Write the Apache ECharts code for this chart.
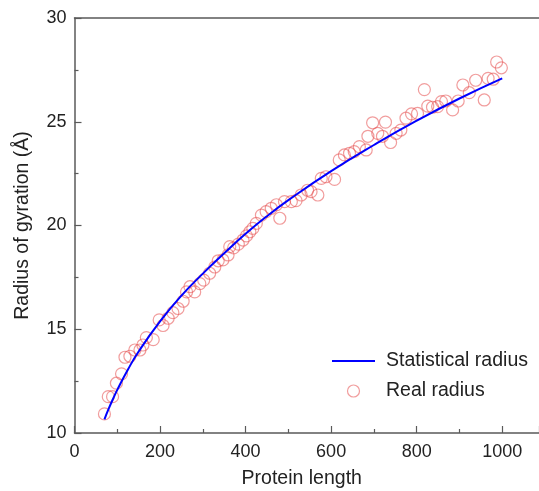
<!DOCTYPE html>
<html>
<head>
<meta charset="utf-8">
<script src="https://cdn.jsdelivr.net/npm/echarts@6/dist/echarts.min.js"></script>
<style>html,body{margin:0;padding:0;background:#fff}#c{width:539px;height:491px}</style>
</head>
<body>
<div id="c"></div>
<script>
// Real radius (scatter) readings
const realLength = [70,79,89,98,110,118,129.5,141,153,160,168,184,198,207,219,230,242,254,262,270,281,293,302,316,328,336,347,359,363,372,383,394,402,410,417,425,437,448,460,472,480,491,507,518,530,545,553,569,577,588,608,619,631,643,654,666,682,686,697,709,720,727,739,752,763,775,788,802,818,826,837,849,858,868,884,897,908,923,938,958,967,979,987,998];
const realRadius = [10.92,11.75,11.75,12.4,12.85,13.65,13.7,14.0,14.0,14.24,14.6,14.5,15.45,15.18,15.53,15.8,16.0,16.35,16.8,17.05,16.8,17.2,17.37,17.7,18.0,18.3,18.34,18.58,18.98,18.92,19.1,19.3,19.5,19.7,19.86,20.1,20.5,20.67,20.83,21.0,20.35,21.15,21.15,21.2,21.47,21.7,21.63,21.47,22.27,22.35,22.22,23.16,23.4,23.48,23.56,23.8,23.64,24.3,24.95,24.44,24.3,24.98,24.0,24.44,24.6,25.17,25.38,25.4,26.55,25.75,25.7,25.73,25.97,26.0,25.57,26.0,26.77,26.4,27.0,26.05,27.09,27.05,27.88,27.6];
// Statistical radius (curve) readings
const statLength = [70,80,90,100,125,150,200,250,300,350,400,450,500,600,700,800,900,1000];
const statRadius = [10.66,11.17,11.64,12.08,13.06,13.93,15.38,16.62,17.68,18.66,19.6,20.45,21.22,22.62,23.88,25.05,26.12,27.09];
const xMin = 0, xMax = 1086, xStep = 200;
const yMin = 10, yMax = 30, yStep = 5;

const chart = echarts.init(document.getElementById('c'));
const axisCol = '#5a5a5a';
const font = 'Liberation Sans, Arial, sans-serif';
const realPairs = [];
for (let i = 0; i < realLength.length; i++) realPairs.push([realLength[i], realRadius[i]]);
const statPairs = [];
for (let i = 0; i < statLength.length; i++) statPairs.push([statLength[i], statRadius[i]]);

chart.setOption({
  animation: false,
  grid: {left: 74.5, top: 18, right: 0, bottom: 58, containLabel: false, outerBoundsMode: 'none'},
  legend: {
    orient: 'vertical', left: 326, top: 346,
    itemWidth: 43, itemHeight: 12, itemGap: 10,
    textStyle: {fontSize: 19.5, color: '#222', fontFamily: font, padding: [0,0,0,6]},
    data: [
      {name: 'Statistical radius', itemStyle: {opacity: 0}, lineStyle: {color: '#0000ff', width: 2}},
      {name: 'Real radius', icon: 'circle', itemStyle: {color: 'rgba(255,255,255,0)', borderColor: 'rgba(230,80,80,0.7)', borderWidth: 1.2}}
    ]
  },
  xAxis: [{
    type: 'value', min: xMin, max: xMax, interval: xStep,
    name: 'Protein length', nameLocation: 'middle', nameGap: 36,
    nameTextStyle: {fontSize: 19.5, color: '#222', fontFamily: font, padding: [0,0,0,-10]},
    axisLine: {lineStyle: {color: axisCol, width: 1.5}},
    axisTick: {inside: true, length: 7, lineStyle: {color: axisCol, width: 1.2}},
    minorTick: {show: true, splitNumber: 2, length: 4, lineStyle: {color: axisCol, width: 1.2}},
    axisLabel: {fontSize: 18, color: '#222', fontFamily: font, margin: 10,
      formatter: function (v) { return v > 1000 ? '' : String(v); }},
    splitLine: {show: false}
  }, {
    type: 'value', position: 'top', min: xMin, max: xMax,
    axisLine: {show: true, onZero: false, lineStyle: {color: axisCol, width: 1.5}},
    axisTick: {show: false}, axisLabel: {show: false}, splitLine: {show: false}
  }],
  yAxis: {
    type: 'value', min: yMin, max: yMax, interval: yStep,
    name: 'Radius of gyration (Å)', nameLocation: 'middle', nameGap: 42,
    nameTextStyle: {fontSize: 19.5, color: '#222', fontFamily: font},
    axisLine: {show: true, lineStyle: {color: axisCol, width: 1.5}},
    axisTick: {inside: true, length: 7, lineStyle: {color: axisCol, width: 1.2}},
    minorTick: {show: true, splitNumber: 2, length: 4, lineStyle: {color: axisCol, width: 1.2}},
    axisLabel: {fontSize: 18, color: '#222', fontFamily: font, margin: 8},
    splitLine: {show: false}
  },
  series: [{
    name: 'Real radius', type: 'scatter', xAxisIndex: 0, yAxisIndex: 0,
    symbol: 'circle', symbolSize: 12,
    itemStyle: {color: 'rgba(255,255,255,0)', borderColor: 'rgba(230,80,80,0.7)', borderWidth: 1.2},
    data: realPairs
  }, {
    name: 'Statistical radius', type: 'line', xAxisIndex: 0, yAxisIndex: 0,
    smooth: true, showSymbol: false, symbol: 'none',
    lineStyle: {color: '#0000ff', width: 2}, itemStyle: {color: '#0000ff'},
    data: statPairs, z: 3
  }]
});
</script>
</body>
</html>
